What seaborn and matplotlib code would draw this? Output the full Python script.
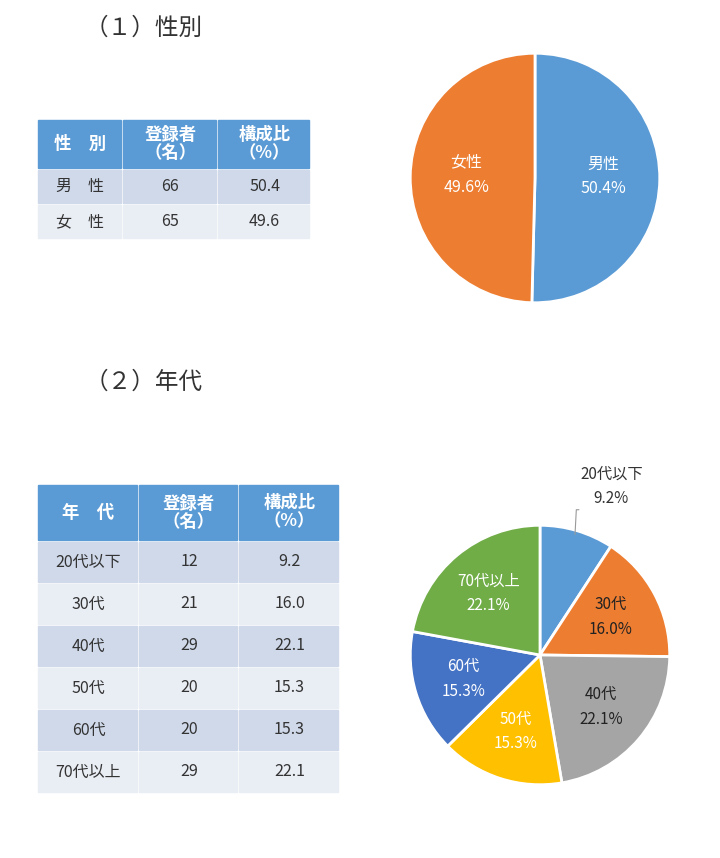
import numpy as np
import matplotlib
matplotlib.use("Agg")
import matplotlib.pyplot as plt
from matplotlib.patches import Rectangle
from matplotlib import font_manager
import seaborn as sns

sns.set_style("white")
cjk = [f.name for f in font_manager.fontManager.ttflist if "CJK" in f.name]
fam = "Noto Sans CJK JP" if "Noto Sans CJK JP" in cjk else (cjk[0] if cjk else "DejaVu Sans")
plt.rcParams["font.family"] = "sans-serif"
plt.rcParams["font.sans-serif"] = [fam, "DejaVu Sans"]

# data
sex_labels = ["男性", "女性"]
sex_table_labels = ["男　性", "女　性"]
sex_counts = [66, 65]
sex_pct = [50.4, 49.6]
age_labels = ["20代以下", "30代", "40代", "50代", "60代", "70代以上"]
age_counts = [12, 21, 29, 20, 20, 29]
age_pct = [9.2, 16.0, 22.1, 15.3, 15.3, 22.1]
headers1 = ["性　別", "登録者\n（名）", "構成比\n（%）"]
headers2 = ["年　代", "登録者\n（名）", "構成比\n（%）"]

sex_colors = sns.color_palette(["#5B9BD5", "#ED7D31"])
age_colors = sns.color_palette(["#5B9BD5", "#ED7D31", "#A5A5A5", "#FFC000", "#4472C4", "#70AD47"])
age_txt = ["#333333", "#222222", "#222222", "white", "white", "white"]

W, H = 720, 858
fig = plt.figure(figsize=(7.2, 8.58), dpi=100)
bg = fig.add_axes([0, 0, 1, 1])
bg.set_xlim(0, W); bg.set_ylim(H, 0); bg.axis("off")

bg.text(85, 28, "（１）性別", fontsize=17, va="center", color="#333333")
bg.text(85, 382, "（２）年代", fontsize=17, va="center", color="#333333")

HEAD = "#5B9BD5"; ROWA = "#CFD9EA"; ROWB = "#E9EDF4"

def table(x0, cols, y0, hh, rh, headers, rows):
    xs = [x0]
    for c in cols:
        xs.append(xs[-1] + c)
    for j, h in enumerate(headers):
        bg.add_patch(Rectangle((xs[j], y0), cols[j] - 2, hh, color=HEAD))
        bg.text(xs[j] + cols[j] / 2, y0 + hh / 2, h, ha="center", va="center",
                color="white", fontsize=12.5, fontweight="bold", linespacing=1.0)
    y = y0 + hh + 2
    for i, r in enumerate(rows):
        c = ROWA if i % 2 == 0 else ROWB
        for j, v in enumerate(r):
            bg.add_patch(Rectangle((xs[j], y), cols[j] - 2, rh - 2, color=c))
            bg.text(xs[j] + cols[j] / 2, y + (rh - 2) / 2, v, ha="center", va="center",
                    color="#333333", fontsize=11.5)
        y += rh

table(38, [85, 95, 93], 120, 48, 35, headers1,
      [[sex_table_labels[i], str(sex_counts[i]), f"{sex_pct[i]:.1f}"] for i in range(2)])
table(38, [101, 100, 101], 485, 55, 42, headers2,
      [[age_labels[i], str(age_counts[i]), f"{age_pct[i]:.1f}"] for i in range(6)])

def pie_ax(cx, cy, r):
    return fig.add_axes([(cx - r) / W, (H - cy - r) / H, 2 * r / W, 2 * r / H])

ax1 = pie_ax(535, 178, 126)
w1, _ = ax1.pie(sex_pct, colors=sex_colors, startangle=90, counterclock=False,
                wedgeprops=dict(edgecolor="white", linewidth=2))
for wd, lab, p in zip(w1, sex_labels, sex_pct):
    a = np.deg2rad((wd.theta1 + wd.theta2) / 2)
    ax1.text(0.55 * np.cos(a), 0.55 * np.sin(a) + 0.02, f"{lab}\n{p:.1f}%", ha="center",
             va="center", color="white", fontsize=11.5, linespacing=1.6)
ax1.set_xlim(-1.01, 1.01); ax1.set_ylim(-1.01, 1.01)
ax1.set_aspect("equal")

ax2 = pie_ax(540, 655, 131)
w2, _ = ax2.pie(age_pct, colors=age_colors, startangle=90, counterclock=False,
                wedgeprops=dict(edgecolor="white", linewidth=2))
for i, (wd, lab, p) in enumerate(zip(w2, age_labels, age_pct)):
    a = np.deg2rad((wd.theta1 + wd.theta2) / 2)
    txt = f"{lab}\n{p:.1f}%"
    if i == 0:
        ax2.text(0.55, 1.30, txt, ha="center", va="center", color="#333333",
                 fontsize=11, linespacing=1.6, clip_on=False)
        ax2.plot([0.30, 0.28, 0.27], [1.12, 1.12, 0.93], color="#999999", lw=0.8, clip_on=False)
    else:
        ax2.text(0.62 * np.cos(a), 0.62 * np.sin(a), txt, ha="center", va="center",
                 color=age_txt[i], fontsize=11, linespacing=1.6)
ax2.set_xlim(-1.01, 1.01); ax2.set_ylim(-1.01, 1.01)
ax2.set_aspect("equal")

fig.savefig("out.png", dpi=100, facecolor="white")
